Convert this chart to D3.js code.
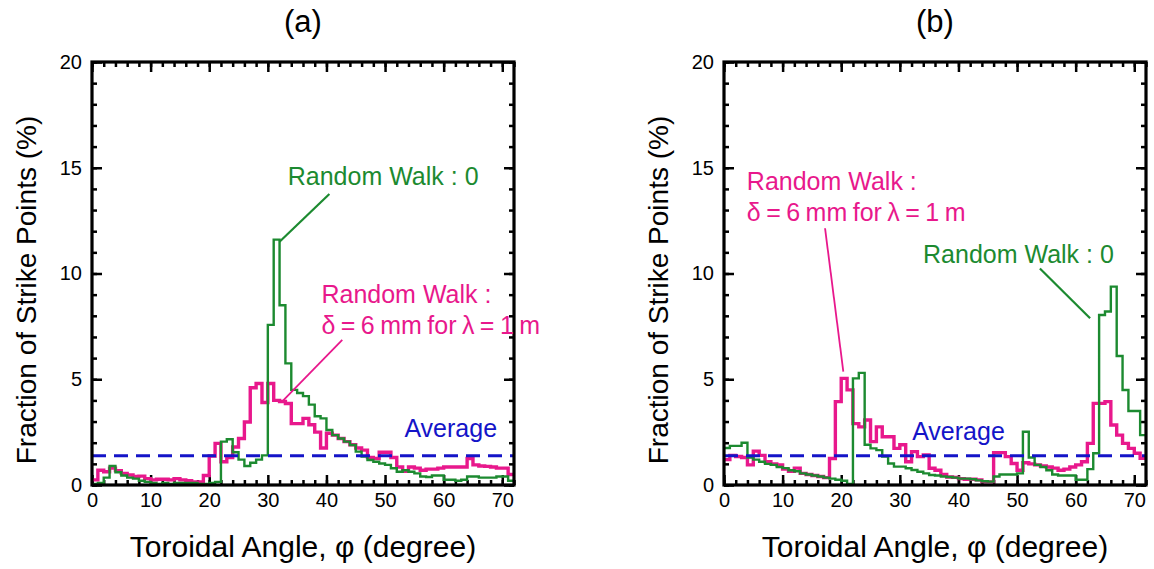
<!DOCTYPE html>
<html>
<head>
<meta charset="utf-8">
<script src="https://cdn.jsdelivr.net/npm/d3@7"></script>
<style>
  body { margin: 0; background: #fff; }
  svg text { font-family: Arial, "Liberation Sans", sans-serif; }
</style>
</head>
<body>
<svg id="chart" width="1154" height="569"></svg>
<script>
// ---- data: fraction of strike points (%) per 1-degree bin, 0..72 deg ----
var binWidth = 1;
var angleMax = 72;
var average = 100 / 72;

var greenA = [0.05, 0.1, 0.35, 0.9, 0.6, 0.45, 0.35, 0.3, 0.2, 0.15,
  0.1, 0.05, 0.1, 0.05, 0.1, 0.1, 0.1, 0.1, 0.05, 0.05,
  0.1, 0.15, 2.05, 2.16, 1.55, 1.2, 0.9, 1.05, 1.2, 1.4,
  7.57, 11.6, 8.5, 5.75, 4.5, 4.35, 4.2, 3.8, 3.25, 3.15,
  2.6, 2.36, 2.2, 2.05, 1.89, 1.58, 1.34, 1.18, 1.1, 1.02,
  0.95, 0.79, 0.63, 0.7, 0.63, 0.55, 0.4, 0.38, 0.45, 0.45,
  0.25, 0.25, 0.2, 0.25, 0.4, 0.4, 0.35, 0.35, 0.35, 0.4,
  0.4, 0.2];

var pinkA = [0.24, 0.7, 0.63, 0.8, 0.68, 0.55, 0.47, 0.4, 0.42, 0.3,
  0.24, 0.27, 0.27, 0.24, 0.3, 0.24, 0.2, 0.15, 0.15, 0.45,
  1.37, 1.97, 1.1, 1.3, 1.8, 2.2, 2.98, 4.6, 4.8, 3.9,
  4.8, 4.0, 3.95, 3.85, 2.9, 2.9, 3.15, 2.85, 2.5, 1.75,
  2.45, 2.36, 2.2, 2.05, 1.9, 1.75, 1.65, 1.3, 1.25, 1.55,
  1.55, 1.3, 0.85, 0.65, 0.85, 0.8, 0.7, 0.75, 0.75, 0.8,
  0.85, 0.85, 0.85, 0.85, 1.25, 0.95, 0.9, 0.88, 0.85, 0.8,
  0.8, 0.5];

var greenB = [1.75, 1.85, 1.85, 2.0, 1.3, 1.2, 1.1, 1.0, 0.95, 0.85,
  0.8, 0.7, 0.65, 0.55, 0.5, 0.45, 0.4, 0.35, 0.3, 0.25,
  0.2, 0.05, 5.04, 5.3, 1.9, 1.73, 1.65, 1.34, 1.02, 0.87,
  0.87, 0.79, 0.71, 0.63, 0.55, 0.47, 0.45, 0.4, 0.38, 0.35,
  0.3, 0.3, 0.27, 0.22, 0.18, 0.16, 0.4, 0.5, 0.5, 0.5,
  0.55, 2.52, 1.3, 0.95, 0.85, 0.7, 0.5, 0.45, 0.45, 0.45,
  0.25, 0.25, 0.75, 1.5, 8.04, 8.2, 9.38, 6.1, 4.49, 3.5,
  3.5, 2.36];

var pinkB = [1.2, 1.4, 1.35, 1.3, 0.95, 1.6, 1.4, 1.1, 1.0, 0.95,
  0.75, 0.65, 0.8, 0.55, 0.5, 0.45, 0.4, 0.35, 1.25, 3.94,
  5.04, 4.5, 2.9, 2.75, 3.07, 2.05, 2.75, 2.28, 2.28, 1.73,
  1.9, 1.1, 1.58, 1.34, 1.42, 0.79, 0.7, 0.5, 0.38, 0.36,
  0.3, 0.27, 0.27, 0.24, 0.15, 0.15, 1.53, 1.53, 1.34, 1.02,
  0.7, 1.05, 1.0, 0.95, 0.9, 0.85, 0.8, 0.7, 0.75, 0.85,
  0.95, 1.1, 1.97, 3.86, 3.86, 3.94, 2.84, 2.36, 1.97, 1.73,
  1.5, 1.26];

var xMajor = [0, 10, 20, 30, 40, 50, 60, 70];
var yMajor = [0, 5, 10, 15, 20];

var colGreen = "#1c8a30";
var colPink = "#e8188c";
var colBlue = "#1414c8";

var panels = [
  {
    title: "(a)", left: 92, green: greenA, pink: pinkA,
    greenText: [33.4, 14.18], greenLead: [[40.5, 13.76], [32.0, 11.5]],
    pinkText: [39.15, 8.6], pinkLead: [[42.7, 6.86], [32.55, 3.98]],
    avgText: [53.3, 2.27]
  },
  {
    title: "(b)", left: 724, green: greenB, pink: pinkB,
    greenText: [33.96, 10.5], greenLead: [[53.9, 10.24], [62.46, 7.88]],
    pinkText: [3.9, 13.95], pinkLead: [[17.24, 12.14], [20.36, 5.36]],
    avgText: [32.1, 2.13]
  }
];

var svg = d3.select("#chart");
var plotW = 422, plotH = 423, plotTop = 62;

panels.forEach(function (p) {
  var x = d3.scaleLinear().domain([0, angleMax]).range([p.left, p.left + plotW]);
  var y = d3.scaleLinear().domain([0, 20]).range([plotTop + plotH, plotTop]);
  var g = svg.append("g");

  // tick marks only (all four sides, inward)
  function ticksOnly(axisFn, scale, vals, pos, size) {
    g.append("g")
      .attr("transform", pos)
      .call(axisFn(scale).tickValues(vals).tickSize(size).tickFormat(""))
      .call(function (s) { s.select(".domain").remove(); })
      .selectAll("line").attr("stroke", "#000").attr("stroke-width", 2.5);
  }
  var xMinor = d3.range(0, angleMax + 0.1, 2);
  var yMinor = d3.range(0, 20.1, 1);
  var bottomPos = "translate(0," + (plotTop + plotH) + ")";
  var topPos = "translate(0," + plotTop + ")";
  var leftPos = "translate(" + p.left + ",0)";
  var rightPos = "translate(" + (p.left + plotW) + ",0)";
  ticksOnly(d3.axisBottom, x, xMinor, bottomPos, -5);
  ticksOnly(d3.axisTop, x, xMinor, topPos, -5);
  ticksOnly(d3.axisLeft, y, yMinor, leftPos, -5);
  ticksOnly(d3.axisRight, y, yMinor, rightPos, -5);

  // major ticks with labels
  var xb = g.append("g")
    .attr("transform", bottomPos)
    .call(d3.axisBottom(x).tickValues(xMajor).tickSize(-10).tickPadding(8));
  xb.select(".domain").remove();
  xb.selectAll("text").attr("font-size", 20).attr("fill", "#000");
  var yl = g.append("g")
    .attr("transform", leftPos)
    .call(d3.axisLeft(y).tickValues(yMajor).tickSize(-10).tickPadding(10));
  yl.select(".domain").remove();
  yl.selectAll("text").attr("font-size", 20).attr("fill", "#000");
  ticksOnly(d3.axisTop, x, xMajor, topPos, -10);
  ticksOnly(d3.axisRight, y, yMajor, rightPos, -10);
  g.selectAll(".tick line").attr("stroke", "#000").attr("stroke-width", 2.5);

  // step histograms
  function steps(vals) {
    var pts = vals.map(function (v, i) { return [i * binWidth, v]; });
    pts.push([angleMax, vals[vals.length - 1]]);
    return pts;
  }
  var line = d3.line()
    .x(function (d) { return x(d[0]); })
    .y(function (d) { return y(d[1]); })
    .curve(d3.curveStepAfter);

  g.append("path").datum(steps(p.pink))
    .attr("d", line).attr("fill", "none")
    .attr("stroke", colPink).attr("stroke-width", 3.4);
  g.append("path").datum(steps(p.green))
    .attr("d", line).attr("fill", "none")
    .attr("stroke", colGreen).attr("stroke-width", 2.4);

  // average
  g.append("line")
    .attr("x1", x(0)).attr("x2", x(angleMax))
    .attr("y1", y(average)).attr("y2", y(average))
    .attr("stroke", colBlue).attr("stroke-width", 3)
    .attr("stroke-dasharray", "14,8");

  // frame
  g.append("rect")
    .attr("x", p.left).attr("y", plotTop)
    .attr("width", plotW).attr("height", plotH)
    .attr("fill", "none").attr("stroke", "#000").attr("stroke-width", 3.2);

  // annotations
  function lead(pts, col, w) {
    g.append("line")
      .attr("x1", x(pts[0][0])).attr("y1", y(pts[0][1]))
      .attr("x2", x(pts[1][0])).attr("y2", y(pts[1][1]))
      .attr("stroke", col).attr("stroke-width", w);
  }
  lead(p.greenLead, colGreen, 2.2);
  lead(p.pinkLead, colPink, 1.8);

  g.append("text")
    .attr("x", x(p.greenText[0])).attr("y", y(p.greenText[1]))
    .attr("font-size", 25).attr("fill", colGreen)
    .text("Random Walk : 0");
  var pt = g.append("text")
    .attr("x", x(p.pinkText[0])).attr("y", y(p.pinkText[1]))
    .attr("font-size", 25).attr("fill", colPink);
  pt.append("tspan").text("Random Walk :");
  pt.append("tspan").attr("x", x(p.pinkText[0])).attr("dy", 31)
    .attr("word-spacing", -1.5)
    .text("\u03B4 = 6 mm for \u03BB = 1 m");
  g.append("text")
    .attr("x", x(p.avgText[0])).attr("y", y(p.avgText[1]))
    .attr("font-size", 25).attr("fill", colBlue)
    .text("Average");

  // titles and axis labels
  var cx = p.left + plotW / 2;
  g.append("text")
    .attr("x", cx).attr("y", 32).attr("text-anchor", "middle")
    .attr("font-size", 31).text(p.title);
  g.append("text")
    .attr("x", cx).attr("y", 557).attr("text-anchor", "middle")
    .attr("font-size", 30).text("Toroidal Angle, \u03C6 (degree)");
  g.append("text")
    .attr("transform", "translate(" + (p.left - 56) + "," + 290 + ") rotate(-90)")
    .attr("text-anchor", "middle")
    .attr("font-size", 28).text("Fraction of Strike Points (%)");
});
</script>
</body>
</html>
